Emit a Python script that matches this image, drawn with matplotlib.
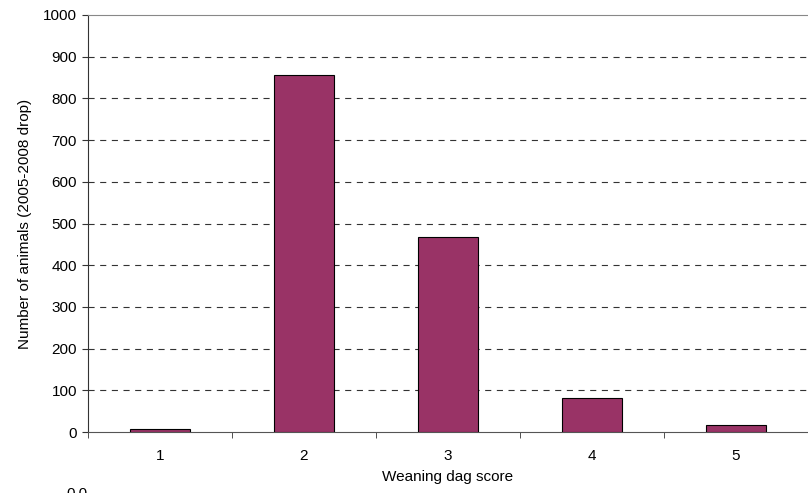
import matplotlib
matplotlib.use("Agg")
import matplotlib.pyplot as plt

# dag score counts
scores = ["1", "2", "3", "4", "5"]
counts = [7, 857, 468, 81, 16]
yticks = [0, 100, 200, 300, 400, 500, 600, 700, 800, 900, 1000]

plt.rcParams['font.family'] = ['Liberation Sans', 'DejaVu Sans']
plt.rcParams['font.size'] = 11

fig = plt.figure(figsize=(8.08, 4.93), dpi=100)
ax = fig.add_axes([88 / 808, 61 / 493, 720 / 808, 417 / 493])

xs = range(len(scores))
ax.bar(xs, counts, width=0.41, color="#993366", edgecolor="black", linewidth=0.8, zorder=3)

ax.set_xlim(-0.5, len(scores) - 0.5)
ax.set_ylim(0, 1000)
ax.set_yticks(yticks)
ax.set_xticks(list(xs))
ax.set_xticklabels(scores)
ax.set_xticks([i + 0.5 for i in range(-1, len(scores))], minor=True)
ax.tick_params(axis="x", which="major", length=0, pad=12)
ax.tick_params(axis="x", which="minor", length=4, direction="out", color="#333333")
ax.tick_params(axis="y", length=4, direction="out", color="#333333", pad=4)

for v in yticks[1:-1]:
    ax.axhline(v, color="#333333", linestyle=(0, (5.5, 5)), linewidth=0.8, zorder=1)

ax.spines["right"].set_visible(False)
ax.spines["top"].set_color("#888888")
ax.spines["left"].set_color("#333333")
ax.spines["bottom"].set_color("#555555")

ax.set_xlabel("Weaning dag score", labelpad=5)
ax.set_ylabel("Number of animals (2005-2008 drop)", labelpad=8)

# clipped caption at bottom edge, as in the source image
fig.text(66 / 808, -8 / 493, "0.0", fontsize=11, va="bottom", ha="left")

fig.savefig("out.png", dpi=100)
